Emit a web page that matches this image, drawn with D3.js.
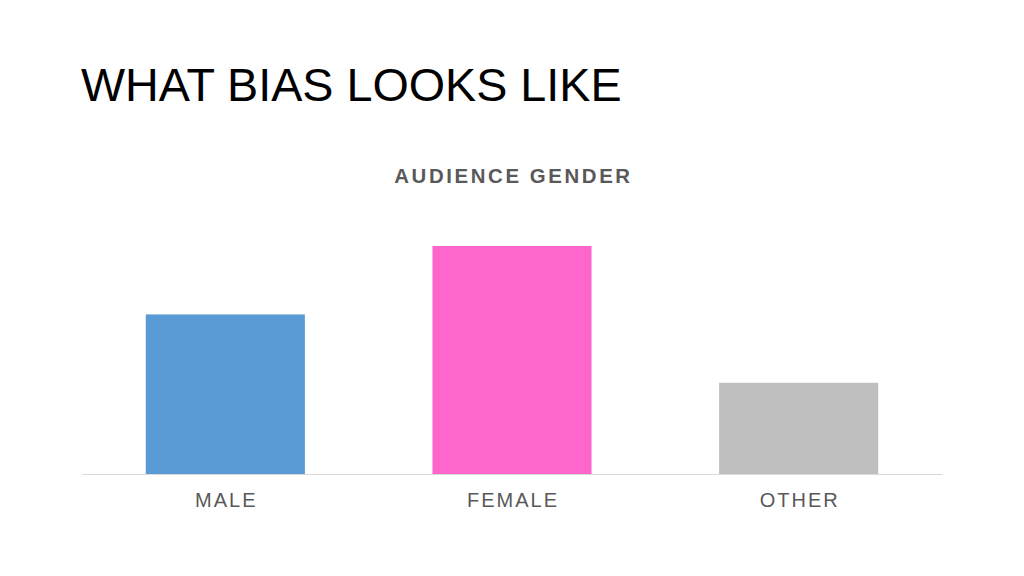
<!DOCTYPE html>
<html>
<head>
<meta charset="utf-8">
<script src="https://cdn.jsdelivr.net/npm/d3@7"></script>
<style>
  body { margin: 0; background: #fff; }
  svg { display: block; font-family: "Liberation Sans", Arial, Helvetica, sans-serif; }
</style>
</head>
<body>
<svg id="chart" width="1024" height="576"></svg>
<script>
// chart data
var categories = ["MALE", "FEMALE", "OTHER"];
var values = [35, 50, 20];
var colors = ["#5b9bd5", "#ff66cc", "#bfbfbf"];

var svg = d3.select("#chart");

// slide title
svg.append("text")
  .attr("x", 81)
  .attr("y", 100.5)
  .attr("font-size", 46.7)
  .attr("fill", "#000")
  .text("WHAT BIAS LOOKS LIKE");

// chart title
svg.append("text")
  .attr("x", 513.5)
  .attr("y", 182.5)
  .attr("text-anchor", "middle")
  .attr("font-size", 20.4)
  .attr("font-weight", "bold")
  .attr("letter-spacing", 2.6)
  .attr("fill", "#595959")
  .text("AUDIENCE GENDER");

var x = d3.scaleBand()
  .domain(categories)
  .range([82, 942])
  .paddingInner(0.445)
  .paddingOuter(0.2225);

var y = d3.scaleLinear()
  .domain([0, 50])
  .range([474, 246]);

svg.selectAll("rect.bar")
  .data(categories)
  .enter()
  .append("rect")
  .attr("class", "bar")
  .attr("x", function(d) { return x(d); })
  .attr("width", x.bandwidth())
  .attr("y", function(d, i) { return y(values[i]); })
  .attr("height", function(d, i) { return y(0) - y(values[i]); })
  .attr("fill", function(d, i) { return colors[i]; });

// category axis
var axis = svg.append("g")
  .attr("transform", "translate(0," + y(0) + ")")
  .call(d3.axisBottom(x).tickSize(0).tickPadding(0));

axis.select(".domain")
  .attr("stroke", "#d9d9d9")
  .attr("stroke-width", 1.2);

axis.selectAll("text")
  .attr("dy", 0)
  .attr("y", 33)
  .attr("dx", 1)
  .attr("font-family", "\"Liberation Sans\", Arial, sans-serif")
  .attr("font-size", 20)
  .attr("letter-spacing", 2)
  .attr("fill", "#595959");
</script>
</body>
</html>
